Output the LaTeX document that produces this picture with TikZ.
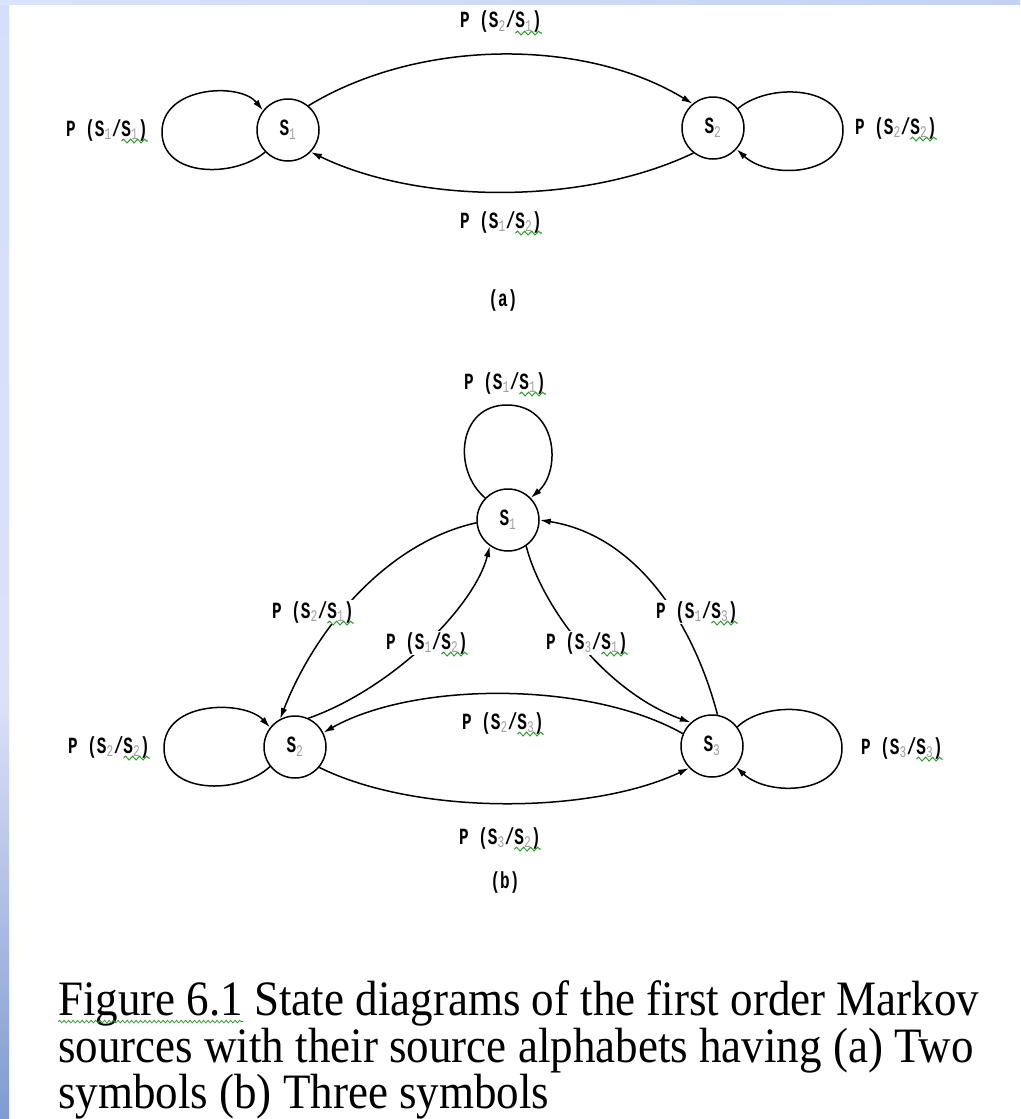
\documentclass[tikz,border=0pt]{standalone}
\usepackage{fontspec}
\usetikzlibrary{arrows.meta,calc,decorations.pathmorphing}
\setmainfont{Liberation Serif}
\newfontfamily\labfont{Liberation Mono}
\definecolor{subgray}{HTML}{A0A0A0}
\definecolor{wavegreen}{HTML}{2E9A2E}
\definecolor{stripA}{HTML}{D3DFFA}
\definecolor{stripB}{HTML}{DDE0F8}
\definecolor{stripC}{HTML}{7F9BD0}
\definecolor{topA}{HTML}{D9E3FB}
\definecolor{topB}{HTML}{C2D2F4}
\newcommand\lwave[1]{\tikz[baseline=(w.base),x=1pt,y=1pt]{\node[inner sep=0pt,outer sep=0pt,fill=none,draw=none,anchor=base] (w) {#1};\draw[overlay,wavegreen,line width=0.8pt,decorate,decoration={snake,amplitude=1.3pt,segment length=7pt}] ($(w.base west)+(0,-3.5)$) -- ($(w.base east)+(0,-3.5)$);}}
\newcommand\cwave[1]{\tikz[baseline=(w.base),x=1pt,y=1pt]{\node[inner sep=0pt,outer sep=0pt,fill=none,draw=none,anchor=base] (w) {#1};\draw[overlay,wavegreen,line width=0.7pt,decorate,decoration={snake,amplitude=1.2pt,segment length=4.5pt}] ($(w.base west)+(0,-6)$) -- ($(w.base east)+(0,-6)$);}}
\newcommand\ssub[1]{\textsubscript{\mdseries\color{subgray}#1}}
\newcommand\plab[2]{\scalebox{1}[1.45]{P (S\ssub{#1}/\lwave{S\ssub{#2})}}}
\newcommand\stl[1]{\scalebox{1}[1.45]{S\ssub{#1}}}
\begin{document}
\begin{tikzpicture}[x=1pt,y=-1pt,
  stnode/.style={circle,draw,line width=1.5pt,minimum size=62pt,inner sep=0pt,font=\labfont\bfseries\fontsize{16}{19}\selectfont},
  lab/.style={inner sep=1.5pt,fill=white,font=\labfont\bfseries\fontsize{16}{19}\selectfont},
  conn/.style={line width=1.5pt,-{Latex[length=11pt,width=6.5pt]}},
  captxt/.style={anchor=base west,inner sep=0pt,font=\fontsize{45}{50}\selectfont}]
\useasboundingbox (0,0) rectangle (1020,1119);
\fill[white] (0,0) rectangle (1020,1119);
\shade[top color=stripA,bottom color=stripB] (0,0) rectangle (9,700);
\shade[top color=stripB,bottom color=stripC] (0,700) rectangle (9,1119);
\shade[left color=topA,right color=topB] (0,0) rectangle (1020,4);

% ---------- (a) ----------
\node[stnode] (A1) at (288,130) {\stl{1}};
\node[stnode] (A2) at (713,128) {\stl{2}};
\draw[conn] (A1.50) .. controls (420,38) and (585,38) .. (A2.130);
\draw[conn] (A2.232) .. controls (585,205) and (420,205) .. (A1.-44);
\draw[conn] (A1.224) .. controls (235,178) and (162,178) .. (162,132) .. controls (162,86) and (240,82) .. (A1.142);
\draw[conn] (A2.38) .. controls (770,82) and (843,86) .. (843,130) .. controls (843,176) and (770,180) .. (A2.-42);
\node[lab] (la1) at (501,22) {\plab{2}{1}};
\node[lab] (la2) at (501,222) {\plab{1}{2}};
\node[lab] (la3) at (107,130) {\plab{1}{1}};
\node[lab] (la4) at (896,128) {\plab{2}{2}};
\node[lab] (la5) at (503,300) {\scalebox{1}[1.45]{(a)}};

% ---------- (b) ----------
\node[stnode] (B1) at (508,520) {\stl{1}};
\node[stnode] (B2) at (295,747) {\stl{2}};
\node[stnode] (B3) at (712,746) {\stl{3}};
\draw[conn] (B1.136) .. controls (452,470) and (458,405) .. (507,405) .. controls (557,405) and (562,470) .. (B1.44);
\draw[conn] (B2.218) .. controls (240,795) and (164,795) .. (164,748) .. controls (164,700) and (245,700) .. (B2.142);
\draw[conn] (B3.37) .. controls (765,700) and (842,702) .. (842,748) .. controls (842,795) and (768,797) .. (B3.-41);
\draw[conn] (B1.185) .. controls +(-90,20) and +(35,-90) .. (B2.118);
\draw[conn] (B2.65) .. controls +(85,-30) and +(-15,60) .. (B1.235);
\draw[conn] (B1.-55) .. controls +(15,60) and +(-85,-30) .. (B3.132);
\draw[conn] (B3.80) .. controls +(-25,-95) and +(95,15) .. (B1.0);
\draw[conn] (B3.157) .. controls (590,681) and (415,681) .. (B2.27);
\draw[conn] (B2.-40) .. controls (415,815) and (590,815) .. (B3.224);
\node[lab] (lb1) at (505,383) {\plab{1}{1}};
\node[lab] (lb2) at (313,612) {\plab{2}{1}};
\node[lab] (lb3) at (427,643) {\plab{1}{2}};
\node[lab] (lb4) at (587,643) {\plab{3}{1}};
\node[lab] (lb5) at (697,612) {\plab{1}{3}};
\node[lab] (lb6) at (503,723) {\plab{2}{3}};
\node[lab] (lb7) at (500,838) {\plab{3}{2}};
\node[lab] (lb8) at (109,747) {\plab{2}{2}};
\node[lab] (lb9) at (902,748) {\plab{3}{3}};
\node[lab] (lb10) at (505,882) {\scalebox{1}[1.45]{(b)}};

% ---------- caption ----------
\node[captxt] (c1) at (58,1015) {\scalebox{1}[1.1]{\cwave{Figure 6.1} State diagrams of the first order Markov}};
\node[captxt] (c2) at (58,1062) {\scalebox{1}[1.1]{sources with their source alphabets having (a) Two}};
\node[captxt] (c3) at (58,1108) {\scalebox{1}[1.1]{symbols (b) Three symbols}};
\end{tikzpicture}
\end{document}
